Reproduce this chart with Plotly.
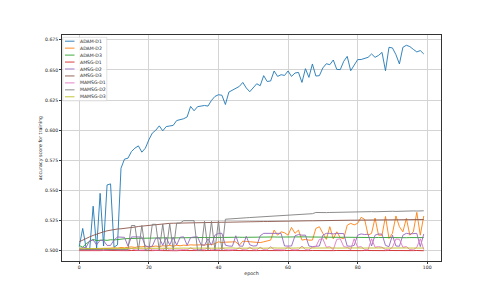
import plotly.graph_objects as go

# ---------------- data ----------------
epochs = list(range(100))

series_names = ["ADAM-D1", "ADAM-D2", "ADAM-D3", "AMSG-D1", "AMSG-D2", "AMSG-D3",
                "MAMSG-D1", "MAMSG-D2", "MAMSG-D3"]

x_tick_values = [0, 20, 40, 60, 80, 100]
y_tick_values = [0.500, 0.525, 0.550, 0.575, 0.600, 0.625, 0.650, 0.675]

adam_d1 = [
    0.5035, 0.5186, 0.5020, 0.5010, 0.5370, 0.5020, 0.5477, 0.5040, 0.5546, 0.5555,
    0.5030, 0.5050, 0.5685, 0.5760, 0.5768, 0.5823, 0.5851, 0.5870, 0.5818, 0.5851,
    0.5920, 0.5976, 0.6000, 0.6036, 0.5995, 0.6030, 0.6035, 0.6040, 0.6080, 0.6088,
    0.6095, 0.6110, 0.6197, 0.6161, 0.6195, 0.6200, 0.6205, 0.6200, 0.6247, 0.6280,
    0.6294, 0.6290, 0.6213, 0.6316, 0.6330, 0.6345, 0.6363, 0.6396, 0.6350, 0.6319,
    0.6350, 0.6385, 0.6369, 0.6452, 0.6404, 0.6408, 0.6491, 0.6446, 0.6460, 0.6454,
    0.6491, 0.6446, 0.6474, 0.6479, 0.6396, 0.6510, 0.6438, 0.6549, 0.6449, 0.6452,
    0.6516, 0.6551, 0.6543, 0.6582, 0.6504, 0.6502, 0.6571, 0.6612, 0.6493, 0.6545,
    0.6585, 0.6586, 0.6593, 0.6604, 0.6632, 0.6604, 0.6620, 0.6645, 0.6493, 0.6687,
    0.6682, 0.6626, 0.6549, 0.6687, 0.6704, 0.6693, 0.6670, 0.6649, 0.6660, 0.6632,
]

adam_d2 = [
    0.5010, 0.5008, 0.5012, 0.5015, 0.5012, 0.5018, 0.5015, 0.5020, 0.5018, 0.5022,
    0.5025, 0.5022, 0.5028, 0.5025, 0.5030, 0.5033, 0.5028, 0.5035, 0.5033, 0.5038,
    0.5030, 0.5036, 0.5040, 0.5035, 0.5042, 0.5040, 0.5045, 0.5038, 0.5046, 0.5042,
    0.5047, 0.5045, 0.5050, 0.5048, 0.5052, 0.5050, 0.5047, 0.5055, 0.5052, 0.5060,
    0.5075, 0.5068, 0.5072, 0.5075, 0.5078, 0.5075, 0.5047, 0.5080, 0.5078, 0.5075,
    0.5072, 0.5070, 0.5068, 0.5075, 0.5080, 0.5089, 0.5172, 0.5130, 0.5158, 0.5150,
    0.5130, 0.5194, 0.5145, 0.5172, 0.5089, 0.5095, 0.5089, 0.5089, 0.5186, 0.5200,
    0.5145, 0.5095, 0.5200, 0.5100, 0.5158, 0.5110, 0.5100, 0.5212, 0.5228, 0.5215,
    0.5228, 0.5278, 0.5261, 0.5130, 0.5145, 0.5272, 0.5130, 0.5130, 0.5285, 0.5103,
    0.5145, 0.5289, 0.5200, 0.5158, 0.5269, 0.5130, 0.5158, 0.5319, 0.5130, 0.5289,
]

adam_d3 = [
    0.5045, 0.5030, 0.5060, 0.5080, 0.5095, 0.5085, 0.5088, 0.5090, 0.5087, 0.5092,
    0.5090, 0.5095, 0.5098, 0.5100, 0.5102, 0.5103, 0.5104, 0.5103, 0.5105, 0.5104,
    0.5106, 0.5105, 0.5107, 0.5106, 0.5107, 0.5108, 0.5107, 0.5108, 0.5109, 0.5108,
    0.5109, 0.5110, 0.5109, 0.5110, 0.5111, 0.5110, 0.5111, 0.5110, 0.5111, 0.5112,
    0.5111, 0.5112, 0.5111, 0.5112, 0.5113, 0.5112, 0.5113, 0.5112, 0.5113, 0.5114,
    0.5113, 0.5114, 0.5113, 0.5114, 0.5115, 0.5114, 0.5115, 0.5114, 0.5115, 0.5116,
    0.5115, 0.5116, 0.5115, 0.5116, 0.5115, 0.5116, 0.5115, 0.5114, 0.5115, 0.5114,
    0.5113, 0.5114, 0.5113, 0.5112, 0.5113, 0.5112, 0.5113, 0.5112, 0.5111, 0.5112,
    0.5111, 0.5112, 0.5111, 0.5110, 0.5111, 0.5110, 0.5111, 0.5110, 0.5111, 0.5110,
    0.5111, 0.5110, 0.5109, 0.5110, 0.5109, 0.5110, 0.5109, 0.5110, 0.5109, 0.5110,
]

amsg_d1 = [
    0.5002, 0.5001, 0.5003, 0.5002, 0.5001, 0.5003, 0.5002, 0.5003, 0.5002, 0.5001,
    0.5002, 0.5003, 0.5002, 0.5001, 0.5002, 0.5003, 0.5002, 0.5001, 0.5003, 0.5002,
    0.5001, 0.5002, 0.5003, 0.5002, 0.5001, 0.5002, 0.5003, 0.5002, 0.5001, 0.5003,
    0.5002, 0.5001, 0.5002, 0.5003, 0.5002, 0.5001, 0.5002, 0.5003, 0.5002, 0.5001,
    0.5003, 0.5002, 0.5001, 0.5002, 0.5003, 0.5002, 0.5001, 0.5002, 0.5003, 0.5002,
    0.5001, 0.5002, 0.5003, 0.5002, 0.5001, 0.5003, 0.5002, 0.5001, 0.5002, 0.5003,
    0.5002, 0.5001, 0.5002, 0.5003, 0.5002, 0.5001, 0.5002, 0.5003, 0.5002, 0.5001,
    0.5003, 0.5002, 0.5001, 0.5002, 0.5003, 0.5002, 0.5001, 0.5002, 0.5003, 0.5002,
    0.5001, 0.5002, 0.5003, 0.5002, 0.5001, 0.5003, 0.5002, 0.5001, 0.5002, 0.5003,
    0.5002, 0.5001, 0.5002, 0.5003, 0.5002, 0.5001, 0.5002, 0.5003, 0.5002, 0.5001,
]

amsg_d2 = [
    0.5020, 0.5025, 0.5030, 0.5085, 0.5090, 0.5050, 0.5088, 0.5085, 0.5045, 0.5045,
    0.5090, 0.5115, 0.5115, 0.5112, 0.5040, 0.5115, 0.5116, 0.5115, 0.5114, 0.5040,
    0.5035, 0.5038, 0.5105, 0.5108, 0.5045, 0.5110, 0.5050, 0.5112, 0.5048, 0.5113,
    0.5116, 0.5047, 0.5110, 0.5115, 0.5116, 0.5050, 0.5047, 0.5100, 0.5047, 0.5130,
    0.5145, 0.5145, 0.5047, 0.5040, 0.5038, 0.5125, 0.5040, 0.5038, 0.5120, 0.5050,
    0.5040, 0.5042, 0.5125, 0.5145, 0.5145, 0.5140, 0.5145, 0.5142, 0.5145, 0.5040,
    0.5038, 0.5040, 0.5125, 0.5135, 0.5130, 0.5130, 0.5040, 0.5035, 0.5038, 0.5040,
    0.5130, 0.5145, 0.5145, 0.5140, 0.5145, 0.5145, 0.5143, 0.5040, 0.5038, 0.5045,
    0.5130, 0.5140, 0.5135, 0.5138, 0.5040, 0.5130, 0.5140, 0.5138, 0.5045, 0.5035,
    0.5130, 0.5040, 0.5038, 0.5130, 0.5145, 0.5140, 0.5145, 0.5145, 0.5035, 0.5140,
]

amsg_d3 = [
    0.5075, 0.5090, 0.5103, 0.5116, 0.5128, 0.5140, 0.5150, 0.5158, 0.5166, 0.5172,
    0.5178, 0.5181, 0.5183, 0.5185, 0.5187, 0.5192, 0.5197, 0.5202, 0.5205, 0.5210,
    0.5214, 0.5218, 0.5221, 0.5223, 0.5225, 0.5226, 0.5228, 0.5229, 0.5230, 0.5231,
    0.5232, 0.5232, 0.5233, 0.5233, 0.5234, 0.5234, 0.5235, 0.5235, 0.5236, 0.5236,
    0.5236, 0.5237, 0.5237, 0.5238, 0.5238, 0.5239, 0.5239, 0.5240, 0.5240, 0.5241,
    0.5241, 0.5242, 0.5242, 0.5243, 0.5243, 0.5244, 0.5244, 0.5245, 0.5245, 0.5246,
    0.5246, 0.5246, 0.5247, 0.5247, 0.5248, 0.5248, 0.5249, 0.5249, 0.5250, 0.5250,
    0.5250, 0.5251, 0.5251, 0.5252, 0.5252, 0.5253, 0.5253, 0.5253, 0.5254, 0.5254,
    0.5254, 0.5255, 0.5255, 0.5255, 0.5256, 0.5256, 0.5256, 0.5257, 0.5257, 0.5257,
    0.5257, 0.5258, 0.5258, 0.5258, 0.5259, 0.5259, 0.5259, 0.5259, 0.5260, 0.5260,
]

mamsg_d1 = [
    0.5008, 0.5006, 0.5010, 0.5008, 0.5007, 0.5010, 0.5008, 0.5006, 0.5009, 0.5008,
    0.5010, 0.5008, 0.5007, 0.5010, 0.5008, 0.5020, 0.5008, 0.5006, 0.5010, 0.5008,
    0.5022, 0.5008, 0.5007, 0.5010, 0.5008, 0.5025, 0.5008, 0.5006, 0.5010, 0.5008,
    0.5010, 0.5008, 0.5025, 0.5010, 0.5008, 0.5007, 0.5010, 0.5025, 0.5008, 0.5010,
    0.5008, 0.5025, 0.5010, 0.5008, 0.5007, 0.5010, 0.5025, 0.5010, 0.5008, 0.5030,
    0.5010, 0.5008, 0.5030, 0.5010, 0.5008, 0.5035, 0.5010, 0.5008, 0.5010, 0.5008,
    0.5035, 0.5010, 0.5008, 0.5010, 0.5040, 0.5010, 0.5008, 0.5030, 0.5035, 0.5095,
    0.5100, 0.5030, 0.5035, 0.5010, 0.5095, 0.5100, 0.5035, 0.5030, 0.5010, 0.5100,
    0.5030, 0.5035, 0.5010, 0.5008, 0.5100, 0.5030, 0.5035, 0.5030, 0.5010, 0.5008,
    0.5030, 0.5098, 0.5095, 0.5030, 0.5035, 0.5010, 0.5008, 0.5030, 0.5100, 0.5010,
]

mamsg_d2 = [
    0.5010, 0.5011, 0.5010, 0.5012, 0.5010, 0.5011, 0.5010, 0.5012, 0.5011, 0.5010,
    0.5011, 0.5010, 0.5012, 0.5011, 0.5010, 0.5210, 0.5210, 0.5005, 0.5210, 0.5005,
    0.5005, 0.5220, 0.5220, 0.5005, 0.5222, 0.5005, 0.5225, 0.5005, 0.5230, 0.5230,
    0.5250, 0.5250, 0.5250, 0.5250, 0.5005, 0.5005, 0.5245, 0.5005, 0.5245, 0.5005,
    0.5250, 0.5005, 0.5262, 0.5265, 0.5267, 0.5269, 0.5271, 0.5272, 0.5274, 0.5276,
    0.5278, 0.5280, 0.5282, 0.5284, 0.5286, 0.5288, 0.5290, 0.5292, 0.5294, 0.5296,
    0.5297, 0.5299, 0.5300, 0.5302, 0.5303, 0.5305, 0.5306, 0.5308, 0.5318, 0.5316,
    0.5315, 0.5317, 0.5318, 0.5319, 0.5318, 0.5320, 0.5321, 0.5320, 0.5322, 0.5321,
    0.5323, 0.5322, 0.5324, 0.5323, 0.5325, 0.5324, 0.5326, 0.5325, 0.5327, 0.5326,
    0.5328, 0.5327, 0.5329, 0.5328, 0.5330, 0.5329, 0.5331, 0.5330, 0.5332, 0.5332,
]

mamsg_d3 = [
    0.5022, 0.5018, 0.5020, 0.5019, 0.5021, 0.5020, 0.5022, 0.5021, 0.5020, 0.5022,
    0.5021, 0.5022, 0.5020, 0.5021, 0.5022, 0.5021, 0.5020, 0.5022, 0.5021, 0.5022,
    0.5021, 0.5022, 0.5023, 0.5021, 0.5022, 0.5023, 0.5022, 0.5021, 0.5023, 0.5022,
    0.5023, 0.5022, 0.5023, 0.5022, 0.5021, 0.5023, 0.5022, 0.5023, 0.5022, 0.5023,
    0.5022, 0.5023, 0.5022, 0.5023, 0.5024, 0.5022, 0.5023, 0.5024, 0.5023, 0.5022,
    0.5023, 0.5024, 0.5023, 0.5022, 0.5024, 0.5023, 0.5024, 0.5023, 0.5022, 0.5024,
    0.5023, 0.5024, 0.5023, 0.5024, 0.5022, 0.5023, 0.5024, 0.5023, 0.5024, 0.5023,
    0.5024, 0.5023, 0.5022, 0.5024, 0.5023, 0.5024, 0.5023, 0.5024, 0.5023, 0.5022,
    0.5024, 0.5023, 0.5024, 0.5023, 0.5024, 0.5023, 0.5022, 0.5024, 0.5023, 0.5024,
    0.5023, 0.5024, 0.5023, 0.5022, 0.5024, 0.5023, 0.5024, 0.5023, 0.5024, 0.5023,
]

series_values = [adam_d1, adam_d2, adam_d3, amsg_d1, amsg_d2, amsg_d3,
                 mamsg_d1, mamsg_d2, mamsg_d3]

# ---------------- style ----------------
series_colors = ["#1f77b4", "#ff7f0e", "#2ca02c", "#d62728", "#9467bd",
                 "#8c564b", "#e377c2", "#7f7f7f", "#bcbd22"]

# The page body has an 8px default margin, so the figure is shrunk by that amount
# and all pixel positions below are expressed in page coordinates.
BODY = 8
W, H = 490 - BODY, 294 - BODY
PL, PR, PT, PB = 62, 441, 35, 261   # plot area in page pixels
FONT = "DejaVu Sans"
TICK_SIZE = 4.6

fig = go.Figure()
for name, color, values in zip(series_names, series_colors, series_values):
    fig.add_trace(go.Scatter(x=epochs, y=values, mode="lines", name=name,
                             line=dict(color=color, width=0.9), showlegend=False))

# matplotlib-like 5% margins
xmin, xmax = min(epochs), max(epochs)
all_y = [v for s in series_values for v in s]
ymin, ymax = min(all_y), max(all_y)
xpad = (xmax - xmin) * 0.05
ypad = (ymax - ymin) * 0.05


def paper_x(px):
    return (px - PL) / (PR - PL)


def paper_y(py):
    return (PB - py) / (PB - PT)


# compact legend (matplotlib style) built from the series names
shapes = [dict(type="rect", xref="paper", yref="paper",
               x0=paper_x(62.8), x1=paper_x(106.8), y0=paper_y(100.8), y1=paper_y(37.3),
               line=dict(color="#cccccc", width=0.6), fillcolor="rgba(255,255,255,0.8)",
               layer="above")]
annotations = []
for i, (name, color) in enumerate(zip(series_names, series_colors)):
    py = 41.2 + 6.95 * i
    shapes.append(dict(type="line", xref="paper", yref="paper",
                       x0=paper_x(65), x1=paper_x(74.5), y0=paper_y(py), y1=paper_y(py),
                       line=dict(color=color, width=0.9), layer="above"))
    annotations.append(dict(xref="paper", yref="paper", x=paper_x(78), y=paper_y(py),
                            xanchor="left", yanchor="middle", text=name, showarrow=False,
                            font=dict(family=FONT, size=TICK_SIZE, color="#222222")))

axis_common = dict(showgrid=True, gridcolor="#d4d4d4", gridwidth=0.8,
                   showline=True, linecolor="#333333", linewidth=0.8, mirror=True,
                   ticks="outside", ticklen=2, tickwidth=0.6, tickcolor="#333333",
                   zeroline=False, automargin=False,
                   tickfont=dict(family=FONT, size=TICK_SIZE, color="#222222"))

fig.update_layout(
    width=W, height=H,
    margin=dict(l=PL - BODY, r=490 - PR, t=PT - BODY, b=294 - PB, pad=0),
    paper_bgcolor="white", plot_bgcolor="white",
    font=dict(family=FONT, size=TICK_SIZE, color="#222222"),
    xaxis=dict(range=[xmin - xpad, xmax + xpad], tickvals=x_tick_values,
               ticktext=[str(v) for v in x_tick_values],
               title=dict(text="epoch", font=dict(family=FONT, size=4.8, color="#222222"),
                          standoff=2),
               **axis_common),
    yaxis=dict(range=[ymin - ypad, ymax + ypad], tickvals=y_tick_values,
               ticktext=["%.3f" % v for v in y_tick_values],
               title=dict(text="accuracy score for training",
                          font=dict(family=FONT, size=4.8, color="#222222"), standoff=2),
               **axis_common),
    shapes=shapes,
    annotations=annotations,
    showlegend=False,
)

fig.write_html("out.html")
